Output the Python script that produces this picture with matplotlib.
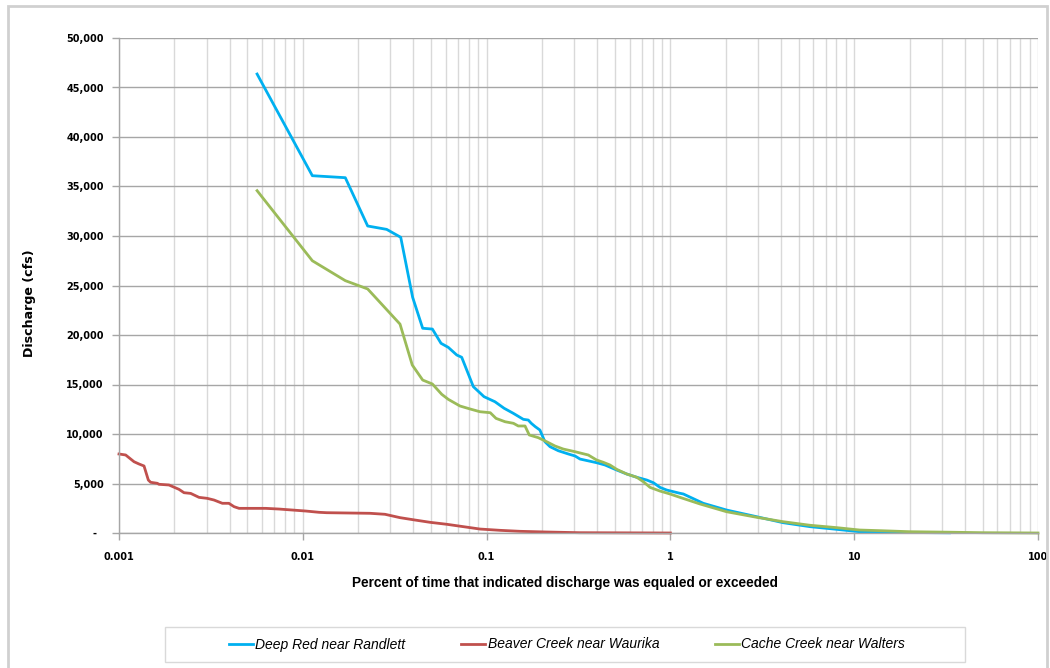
import matplotlib
matplotlib.use("Agg")
import matplotlib.pyplot as plt
from matplotlib.ticker import FixedLocator, FuncFormatter, LogLocator, NullFormatter
from matplotlib.patches import Rectangle
from matplotlib.lines import Line2D

# ---- data ----
deep_red_x = [0.00564, 0.01127, 0.01703, 0.02254, 0.02859, 0.0341, 0.0396, 0.0449, 0.0507,
              0.0565, 0.0619, 0.0688, 0.0732, 0.0847, 0.0968, 0.111, 0.1245, 0.1397, 0.1585,
              0.1686, 0.175, 0.184, 0.195, 0.2076, 0.2213, 0.2455, 0.2786, 0.3029, 0.3223,
              0.397, 0.4406, 0.5104, 0.5785, 0.6558, 0.7437, 0.8078, 0.8773, 0.9545, 1.127,
              1.176, 1.51, 2.02, 2.94, 4.11, 5.75, 8.03, 10.7, 14.1, 20, 33]
deep_red_y = [46360, 36090, 35890, 31010, 30670, 29870, 23800, 20680, 20600,
              19160, 18750, 17980, 17750, 14780, 13770, 13260, 12600, 12090, 11480,
              11410, 11080, 10740, 10400, 9220, 8720, 8310, 7980, 7780, 7470,
              7100, 6870, 6360, 5960, 5630, 5350, 5080, 4610, 4340, 4010,
              3940, 3000, 2320, 1650, 1040, 640, 370, 130, 100, 50, 20]

beaver_x = [0.001, 0.001087, 0.001207, 0.001285, 0.001368, 0.001444, 0.001487, 0.001616,
            0.00165, 0.00187, 0.00212, 0.002258, 0.002455, 0.002725, 0.00302, 0.003288,
            0.00365, 0.00396, 0.004225, 0.0045, 0.00628, 0.00742, 0.00877, 0.01037,
            0.01225, 0.01349, 0.02322, 0.028, 0.0338, 0.0408, 0.0492, 0.0607, 0.0747,
            0.092, 0.1183, 0.152, 0.2123, 0.32, 1.0]
beaver_y = [7980, 7880, 7200, 6970, 6770, 5350, 5120, 5020,
            4920, 4850, 4410, 4070, 4000, 3600, 3500, 3330,
            3000, 3000, 2660, 2490, 2490, 2420, 2320, 2220,
            2090, 2050, 1990, 1890, 1550, 1310, 1080, 880, 640,
            400, 270, 170, 100, 30, 0]

cache_x = [0.00564, 0.01127, 0.01703, 0.02254, 0.0338, 0.0394, 0.0449, 0.0507, 0.057,
           0.0619, 0.0716, 0.0812, 0.092, 0.1047, 0.1125, 0.126, 0.14, 0.1487, 0.1618,
           0.1707, 0.191, 0.2123, 0.2355, 0.2614, 0.3029, 0.3574, 0.397, 0.4315, 0.4689,
           0.5104, 0.5785, 0.6558, 0.7131, 0.7745, 0.8773, 0.9954, 1.127, 1.45, 2.02,
           2.94, 4.11, 5.75, 8.03, 10.7, 14.1, 20, 33, 50, 100]
cache_y = [34580, 27500, 25490, 24650, 21100, 16970, 15450, 15050, 14010,
           13500, 12830, 12530, 12250, 12150, 11580, 11240, 11080, 10810, 10810,
           9900, 9630, 9220, 8790, 8480, 8210, 7880, 7370, 7140, 6870,
           6430, 5960, 5630, 5180, 4610, 4240, 3940, 3600, 2930, 2150,
           1590, 1140, 780, 540, 300, 230, 130, 80, 30, 0]

series_names = ["Deep Red near Randlett", "Beaver Creek near Waurika", "Cache Creek near Walters"]
series_colors = ["#00B0F0", "#C0504D", "#9BBB59"]
x_ticks = [0.001, 0.01, 0.1, 1, 10, 100]
y_ticks = [0, 5000, 10000, 15000, 20000, 25000, 30000, 35000, 40000, 45000, 50000]

x_label = "Percent of time that indicated discharge was equaled or exceeded"
y_label = "Discharge (cfs)"

# ---- figure ----
W, H = 1050, 668
fig = plt.figure(figsize=(W / 100, H / 100), dpi=100)
fig.patch.set_facecolor("white")

# outer border
fig.patches.append(Rectangle((8 / W, -0.01), (1047 - 8) / W, (668 - 6) / H + 0.01,
                             transform=fig.transFigure, fill=False,
                             edgecolor="#D0D0D0", linewidth=2, zorder=0))

ax = fig.add_axes([119 / W, 1 - 533 / H, (1038 - 119) / W, (533 - 38) / H])
ax.set_xscale("log")
ax.set_xlim(0.001, 100)
ax.set_ylim(0, 50000)

# grid
ax.xaxis.set_minor_locator(LogLocator(base=10, subs=range(2, 10), numticks=20))
ax.xaxis.set_minor_formatter(NullFormatter())
ax.xaxis.set_major_locator(FixedLocator(x_ticks))
ax.xaxis.set_major_formatter(FuncFormatter(lambda v, p: f"{v:g}"))
ax.yaxis.set_major_locator(FixedLocator(y_ticks))
ax.yaxis.set_major_formatter(FuncFormatter(lambda v, p: "-  " if v == 0 else f"{int(v):,}"))

ax.grid(True, which="both", axis="x", color="#D9D9D9", linewidth=1)
ax.grid(True, which="major", axis="y", color="#A6A6A6", linewidth=1)
ax.set_axisbelow(True)

for s in ["top", "right"]:
    ax.spines[s].set_visible(False)
for s in ["left", "bottom"]:
    ax.spines[s].set_color("#A6A6A6")
    ax.spines[s].set_linewidth(1)

ax.tick_params(axis="both", which="major", length=5, color="#A6A6A6", width=1,
               labelsize=7, pad=6)
ax.tick_params(axis="x", which="minor", length=0)
ax.tick_params(axis="x", which="major", pad=9)
for lab in ax.get_xticklabels() + ax.get_yticklabels():
    lab.set_fontweight("bold")

# lines
for xs, ys, c, n in [(deep_red_x, deep_red_y, series_colors[0], series_names[0]),
                     (beaver_x, beaver_y, series_colors[1], series_names[1]),
                     (cache_x, cache_y, series_colors[2], series_names[2])]:
    ax.plot(xs, ys, color=c, linewidth=2, label=n, solid_joinstyle="round", clip_on=False)

narrow = ["Liberation Sans Narrow", "Liberation Sans", "DejaVu Sans"]

fig.text(29 / W, 1 - 303 / H, y_label, rotation=90, fontsize=9.1, fontweight="bold",
         ha="center", va="center")

fig.text(565 / W, 1 - 583 / H, x_label, family=narrow, fontsize=9.8, fontweight="bold",
         ha="center", va="center")

# legend frame and legend
fig.patches.append(Rectangle((165 / W, 1 - 662 / H), (965 - 165) / W, (662 - 627) / H,
                             transform=fig.transFigure, fill=False,
                             edgecolor="#D9D9D9", linewidth=1))
handles = [Line2D([], [], color=c, linewidth=2) for c in series_colors]
leg = fig.legend(handles, series_names, loc="center", bbox_to_anchor=(567 / W, 1 - 644.5 / H),
                 ncol=3, frameon=False, handlelength=1.75, handletextpad=0.15,
                 columnspacing=4.0, prop={"family": narrow, "style": "italic", "size": 10})

fig.savefig("out.png", dpi=100)
